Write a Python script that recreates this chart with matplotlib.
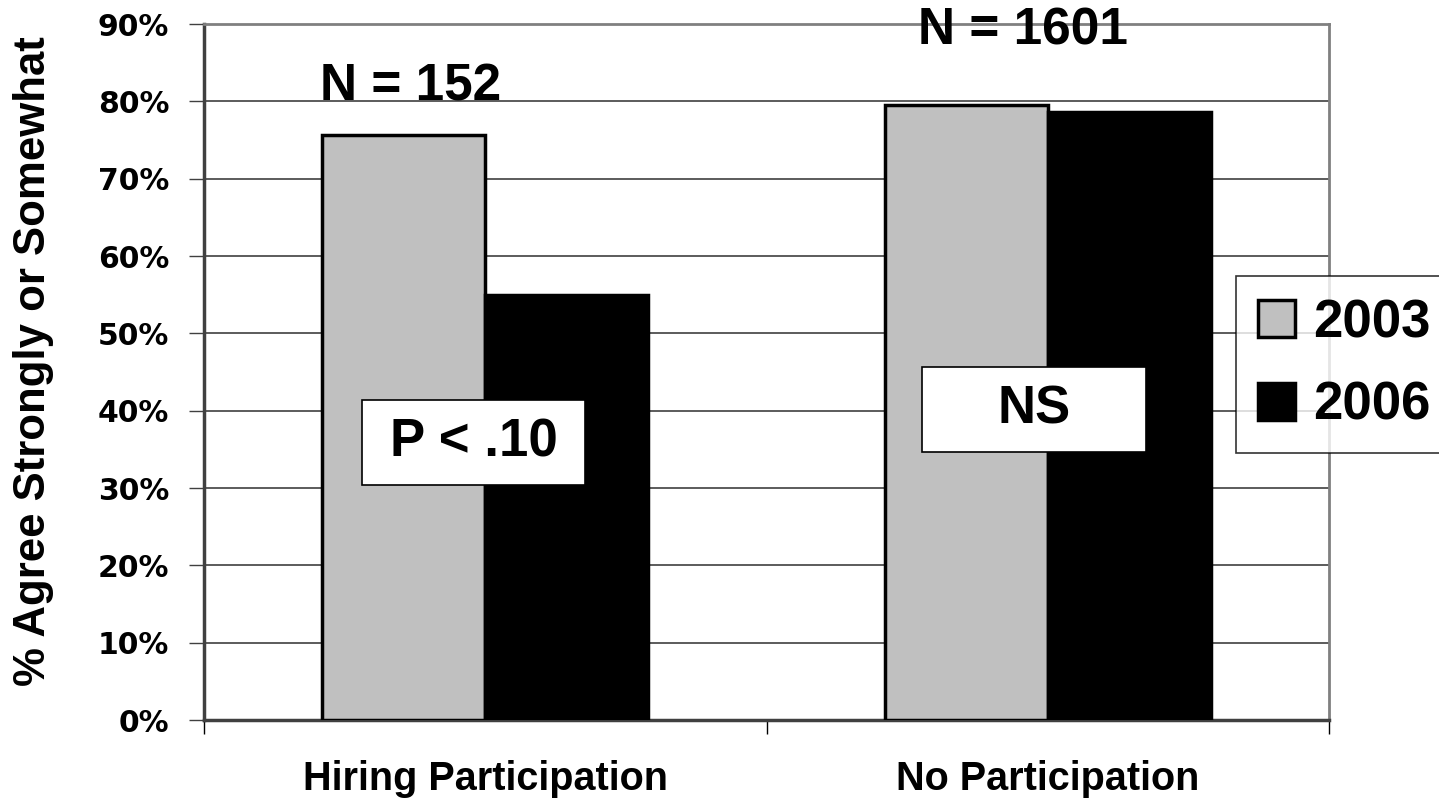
import matplotlib
matplotlib.use("Agg")
import matplotlib.pyplot as plt
from matplotlib.patches import Rectangle, Patch

categories = ["Hiring Participation", "No Participation"]
years = ["2003", "2006"]
values_2003 = [75.7, 79.5]
values_2006 = [55.0, 78.6]
sample_sizes = ["N = 152", "N = 1601"]
significance = ["P < .10", "NS"]
yticks = list(range(0, 91, 10))

SANS = "Liberation Sans"

fig = plt.figure(figsize=(14.39, 7.99), dpi=100)
ax = fig.add_axes([204 / 1439, 79 / 799, 1125 / 1439, 696 / 799])

width = 0.29
xs = range(len(categories))
ax.bar([x - width / 2 for x in xs], values_2003, width, color="#c0c0c0",
       edgecolor="black", linewidth=2.5, zorder=3, label=years[0])
ax.bar([x + width / 2 for x in xs], values_2006, width, color="black",
       edgecolor="black", linewidth=2.5, zorder=3, label=years[1])

ax.set_xlim(-0.5, 1.5)
ax.set_ylim(0, 90)
ax.set_yticks(yticks)
ax.set_yticklabels([f"{t}%" for t in yticks], fontsize=21.5, fontweight="bold",
                   family="DejaVu Sans")
ax.set_xticks([-0.5, 0.5, 1.5])
ax.set_xticklabels([])
ax.tick_params(axis="x", direction="out", length=10, width=1, color="black")
ax.tick_params(axis="y", direction="out", length=11, width=1, color="#404040", pad=14)
for x, cat in zip(xs, categories):
    ax.text(x, -7.6, cat, ha="center", va="center", fontsize=28.5,
            fontweight="bold", family=SANS)

ax.yaxis.grid(True, color="#404040", linewidth=1.2, zorder=0)
ax.set_axisbelow(True)
for side in ("top", "right"):
    ax.spines[side].set_color("#808080")
    ax.spines[side].set_linewidth(2)
ax.spines["left"].set_color("#404040")
ax.spines["left"].set_linewidth(2.5)
ax.spines["bottom"].set_color("#404040")
ax.spines["bottom"].set_linewidth(2.5)

fig.text(34 / 1439, (799 - 361) / 799, "% Agree Strongly or Somewhat", rotation=90,
         ha="center", va="center", fontsize=31.5, fontweight="bold", family=SANS)

# Sample size labels above each group
ax.text(-0.133, 81.8, sample_sizes[0], ha="center", va="center", fontsize=37,
        fontweight="bold", family=SANS, clip_on=False, zorder=5)
ax.text(0.956, 89.1, sample_sizes[1], ha="center", va="center", fontsize=37,
        fontweight="bold", family=SANS, clip_on=False, zorder=5)

# Significance boxes
boxes = [(-0.219, 30.4, 0.397, 11.0), (0.777, 34.7, 0.397, 10.9)]
for (bx, by, bw, bh), label in zip(boxes, significance):
    ax.add_patch(Rectangle((bx, by), bw, bh, facecolor="white", edgecolor="black",
                           linewidth=1.2, zorder=6))
    ax.text(bx + bw / 2, by + bh / 2, label, ha="center", va="center", fontsize=38,
            fontweight="bold", family=SANS, zorder=7)

handles = [Patch(facecolor="#c0c0c0", edgecolor="black", linewidth=2.5),
           Patch(facecolor="black", edgecolor="black", linewidth=2.5)]
leg = fig.legend(handles, years, loc="upper left",
                 bbox_to_anchor=(1236 / 1439, (799 - 276) / 799),
                 prop={"family": SANS, "weight": "bold", "size": 38},
                 frameon=True, fancybox=False, handlelength=0.7, handleheight=0.7,
                 handletextpad=0.34, borderpad=0.42, labelspacing=0.62,
                 borderaxespad=0)
leg.get_frame().set_edgecolor("black")
leg.get_frame().set_linewidth(1.2)

fig.savefig("out.png", dpi=100, facecolor="white")
